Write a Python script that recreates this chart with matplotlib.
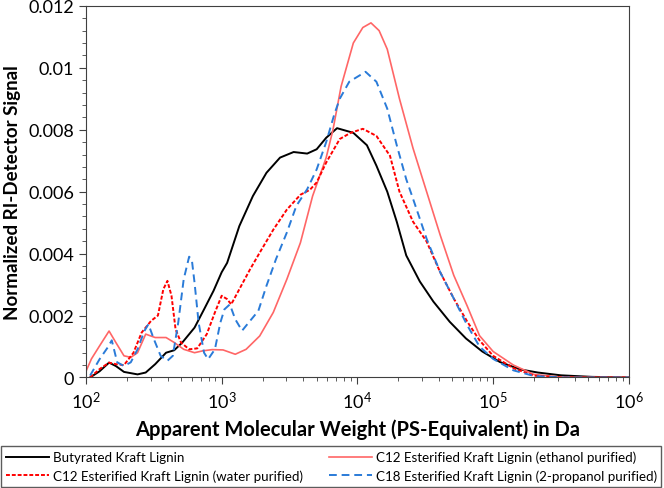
import numpy as np
import matplotlib.pyplot as plt

# --- DATA (log10 of molecular weight, normalized RI signal) ---
butyrated_logmw = [2.03, 2.10, 2.17, 2.22, 2.28, 2.38, 2.44, 2.51, 2.59, 2.65, 2.71, 2.80, 2.87,
                   2.94, 3.0, 3.04, 3.13, 3.23, 3.33, 3.43, 3.53, 3.63, 3.70, 3.77, 3.85, 3.97,
                   4.07, 4.14, 4.22, 4.29, 4.36, 4.46, 4.56, 4.68, 4.8, 4.92, 5.05, 5.2, 5.33,
                   5.5, 5.73, 6.0]
butyrated_sig = [0.0, 0.0002, 0.00048, 0.00037, 0.00018, 0.0001, 0.00016, 0.00043, 0.0008, 0.00088,
                 0.00113, 0.00161, 0.0022, 0.0028, 0.0034, 0.0037, 0.00489, 0.00586, 0.00661,
                 0.0071, 0.00728, 0.00723, 0.00737, 0.00774, 0.00805, 0.0079, 0.0075, 0.00684,
                 0.006, 0.00503, 0.00394, 0.0031, 0.00245, 0.0018, 0.00126, 0.00084, 0.0005,
                 0.00026, 0.00016, 0.00007, 0.00002, 0.0]

ethanol_logmw = [2.0, 2.04, 2.10, 2.17, 2.22, 2.28, 2.33, 2.38, 2.44, 2.51, 2.59, 2.65, 2.72, 2.80,
                 2.86, 2.93, 3.01, 3.10, 3.18, 3.28, 3.38, 3.48, 3.58, 3.67, 3.77, 3.82, 3.88,
                 3.97, 4.04, 4.10, 4.16, 4.22, 4.31, 4.41, 4.51, 4.61, 4.71, 4.81, 4.9, 5.0,
                 5.15, 5.3, 5.5, 6.0]
ethanol_sig = [0.0002, 0.0006, 0.00102, 0.0015, 0.00113, 0.0007, 0.00065, 0.0008, 0.0014, 0.00129,
               0.00129, 0.00113, 0.00091, 0.0008, 0.00086, 0.0009, 0.00089, 0.00075, 0.00091,
               0.00134, 0.0021, 0.00317, 0.00435, 0.00586, 0.0071, 0.008, 0.0094, 0.0108, 0.0113,
               0.01145, 0.0112, 0.0106, 0.009, 0.0074, 0.006, 0.0046, 0.0033, 0.0023, 0.00135,
               0.00084, 0.0004, 0.0001, 0.00001, 0.0]

water_logmw = [2.03, 2.10, 2.17, 2.22, 2.28, 2.35, 2.41, 2.48, 2.53, 2.57, 2.60, 2.63, 2.66, 2.70,
               2.76, 2.82, 2.89, 2.95, 3.0, 3.04, 3.07, 3.13, 3.21, 3.28, 3.38, 3.48, 3.58, 3.65,
               3.70, 3.77, 3.87, 3.95, 4.04, 4.14, 4.24, 4.31, 4.41, 4.51, 4.61, 4.71, 4.81, 4.9,
               5.0, 5.15, 5.3, 5.5, 6.0]
water_sig = [0.0, 0.00027, 0.00048, 0.00043, 0.0004, 0.0008, 0.00145, 0.00183, 0.002, 0.00285,
             0.00312, 0.00264, 0.00156, 0.00113, 0.00091, 0.00094, 0.0014, 0.0021, 0.00264,
             0.00253, 0.00236, 0.00285, 0.0035, 0.00403, 0.00477, 0.00542, 0.0059, 0.00606,
             0.0063, 0.00694, 0.0077, 0.0079, 0.00803, 0.0078, 0.00716, 0.006, 0.00503, 0.00439,
             0.0034, 0.00255, 0.0018, 0.0012, 0.0007, 0.0003, 0.00006, 0.0, 0.0]

propanol_logmw = [2.03, 2.10, 2.16, 2.19, 2.23, 2.28, 2.33, 2.38, 2.43, 2.46, 2.50, 2.55, 2.60,
                  2.64, 2.68, 2.72, 2.76, 2.78, 2.80, 2.83, 2.87, 2.90, 2.95, 2.99, 3.02, 3.06,
                  3.10, 3.15, 3.20, 3.27, 3.33, 3.40, 3.48, 3.55, 3.63, 3.70, 3.77, 3.83, 3.87,
                  3.94, 4.06, 4.14, 4.22, 4.29, 4.36, 4.41, 4.51, 4.61, 4.71, 4.81, 4.9, 5.0,
                  5.15, 5.3, 5.5, 6.0]
propanol_sig = [0.00006, 0.00059, 0.00097, 0.0012, 0.00049, 0.00037, 0.00049, 0.00091, 0.0015,
                0.00172, 0.00124, 0.0007, 0.00054, 0.0007, 0.00178, 0.00317, 0.0039, 0.0038,
                0.00306, 0.00177, 0.0008, 0.00059, 0.00091, 0.00177, 0.0022, 0.00236, 0.00188,
                0.00151, 0.00178, 0.00215, 0.00296, 0.00382, 0.00468, 0.00554, 0.00608, 0.00672,
                0.0076, 0.0085, 0.009, 0.00955, 0.00987, 0.00955, 0.00868, 0.0075, 0.0064,
                0.00577, 0.00448, 0.0034, 0.00255, 0.00168, 0.001, 0.0006, 0.00023, 0.00005,
                0.0, 0.0]

series = [
    ('Butyrated Kraft Lignin', butyrated_logmw, butyrated_sig, dict(color='black', lw=1.4, ls='-')),
    ('C12 Esterified Kraft Lignin (ethanol purified)', ethanol_logmw, ethanol_sig,
     dict(color='#FF6666', lw=1.2, ls='-')),
    ('C12 Esterified Kraft Lignin (water purified)', water_logmw, water_sig,
     dict(color='#FF0000', lw=1.4, ls=(0, (2, 1)))),
    ('C18 Esterified Kraft Lignin (2-propanol purified)', propanol_logmw, propanol_sig,
     dict(color='#2A7BD8', lw=1.4, ls=(0, (4, 2.5)))),
]

plt.rcParams['font.family'] = ['Lato', 'DejaVu Sans']

fig = plt.figure(figsize=(6.64, 4.89), dpi=100)
ax = fig.add_axes([0.1295, 0.226, 0.8175, 0.760])

handles = []
for label, lx, y, style in series:
    h, = ax.plot(10 ** np.array(lx), y, label=label, solid_joinstyle='round', **style)
    handles.append(h)

ax.set_xscale('log')
ax.set_xlim(1e2, 1e6)
ax.set_ylim(0, 0.012)
ax.set_yticks([0, 0.002, 0.004, 0.006, 0.008, 0.01, 0.012])
ax.set_yticklabels(['0', '0.002', '0.004', '0.006', '0.008', '0.01', '0.012'])
ax.set_yticks(np.arange(0, 0.0121, 0.0004), minor=True)
ax.tick_params(which='both', direction='out', labelsize=13, color='#404040')
ax.tick_params(which='major', length=5, width=0.8)
ax.tick_params(which='minor', length=3, width=0.6)
ax.tick_params(axis='x', pad=4)
for s in ax.spines.values():
    s.set_color('#404040')

ax.set_xlabel('Apparent Molecular Weight (PS-Equivalent) in Da', fontsize=14.5,
              fontweight='bold', labelpad=5)
ax.set_ylabel('Normalized RI-Detector Signal', fontsize=13.5, fontweight='bold', labelpad=5)

order = [0, 2, 1, 3]
leg = fig.legend([handles[i] for i in order], [series[i][0] for i in order],
                 loc='lower left', bbox_to_anchor=(0.002, 0.003, 0.994, 0.09),
                 mode='expand', ncol=2, fontsize=9.6, frameon=True, fancybox=False,
                 edgecolor='#333333', handlelength=3.2, handletextpad=0.3,
                 borderaxespad=0, labelspacing=0.45, borderpad=0.35)
leg.get_frame().set_linewidth(1.0)

fig.savefig('out.png', dpi=100)
